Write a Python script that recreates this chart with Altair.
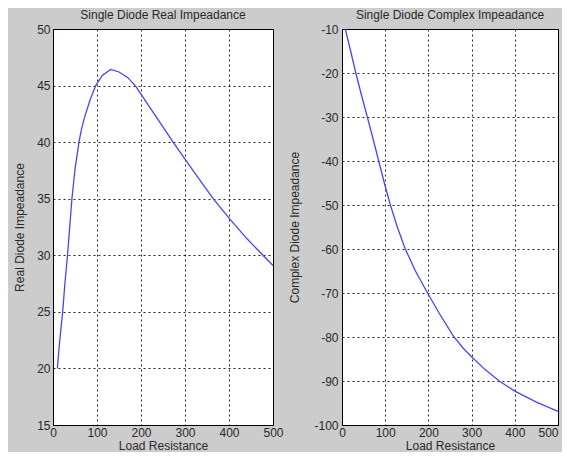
import altair as alt
import pandas as pd

# Left panel: Single Diode Real Impeadance
real_x = [10, 12, 14, 18, 22, 27, 33, 38, 43, 50, 59, 65, 71, 84, 97, 112, 131, 150, 170, 187, 230, 273, 320, 364, 402, 440, 477, 500]
real_y = [20, 21, 21.9, 23.5, 25, 27.5, 30, 32.5, 35, 37.6, 40, 41.2, 42.1, 43.7, 45, 45.9, 46.43, 46.2, 45.7, 45, 42.5, 40, 37.4, 35, 33.2, 31.5, 30, 29.1]

# Right panel: Single Diode Complex Impeadance
cplx_x = [7.6, 20, 32, 45, 58.6, 72, 85, 98, 112, 128, 146, 170, 198, 225, 257, 280, 300, 330, 364, 400, 450, 500]
cplx_y = [-10, -15, -20, -25, -30, -35, -40, -45, -50, -55, -59.9, -65, -70, -74.6, -79.7, -82.5, -84.5, -87.3, -90, -92.3, -94.8, -96.9]

titles = ["Single Diode Real Impeadance", "Single Diode Complex Impeadance"]
y_titles = ["Real Diode Impeadance", "Complex Diode Impeadance"]
x_title = "Load Resistance"

x_ticks = [0, 100, 200, 300, 400, 500]
real_ticks = [15, 20, 25, 30, 35, 40, 45, 50]
cplx_ticks = [-100, -90, -80, -70, -60, -50, -40, -30, -20, -10]

df_real = pd.DataFrame({"x": real_x, "y": real_y})
df_cplx = pd.DataFrame({"x": cplx_x, "y": cplx_y})

FONT = "Liberation Sans"
TXT = "#2a2a2a"
H = 396


def make_axis(values, title, label_pad, title_pad, label_align=None):
    kw = dict(
        values=values,
        title=title,
        grid=True,
        gridColor="#000000",
        gridDash=[2, 3],
        gridOpacity=0.85,
        gridWidth=1,
        domain=False,
        ticks=False,
        labelFont=FONT,
        labelFontSize=12,
        labelColor=TXT,
        labelPadding=label_pad,
        labelExpr="toString(datum.value)",
        titleFont=FONT,
        titleFontSize=12,
        titleFontWeight="normal",
        titleColor=TXT,
        titlePadding=title_pad,
        labelFlush=False,
        labelOverlap=False,
    )
    if label_align is not None:
        kw["labelAlign"] = label_align
    return alt.Axis(**kw)


def panel(df, title, ytitle, ydomain, yticks, w, ylp, ytp, xalign=None):
    line = alt.Chart(df).mark_line(color="#4545ff", strokeWidth=1.3).encode(
        x=alt.X("x:Q", scale=alt.Scale(domain=[0, 500], nice=False),
                axis=make_axis(x_ticks, x_title, 2, 2, xalign)),
        y=alt.Y("y:Q", scale=alt.Scale(domain=ydomain, nice=False),
                axis=make_axis(yticks, ytitle, ylp, ytp)),
    )
    ttl = alt.Chart(pd.DataFrame({"t": [title]})).mark_text(
        font=FONT, fontSize=12, color=TXT, baseline="middle", align="center",
    ).encode(text="t:N", x=alt.value(w / 2), y=alt.value(-14))
    return alt.layer(line, ttl).properties(width=w, height=H)


left = panel(df_real, titles[0], y_titles[0], [15, 50], real_ticks, 220, 3, 10)
right = panel(df_cplx, titles[1], y_titles[1], [-100, -10], cplx_ticks, 216, 4, 12,
              {"condition": {"test": "datum.value == 500", "value": "right"}, "value": "center"})

chart = alt.hconcat(left, right, spacing=4).properties(
    background="#cccccc",
    padding={"left": 5, "top": 0, "right": 0, "bottom": 0},
).configure_view(
    fill="#ffffff", stroke="#000000", strokeWidth=1,
)

chart.save("out.html", embed_options={"renderer": "svg", "actions": False})
